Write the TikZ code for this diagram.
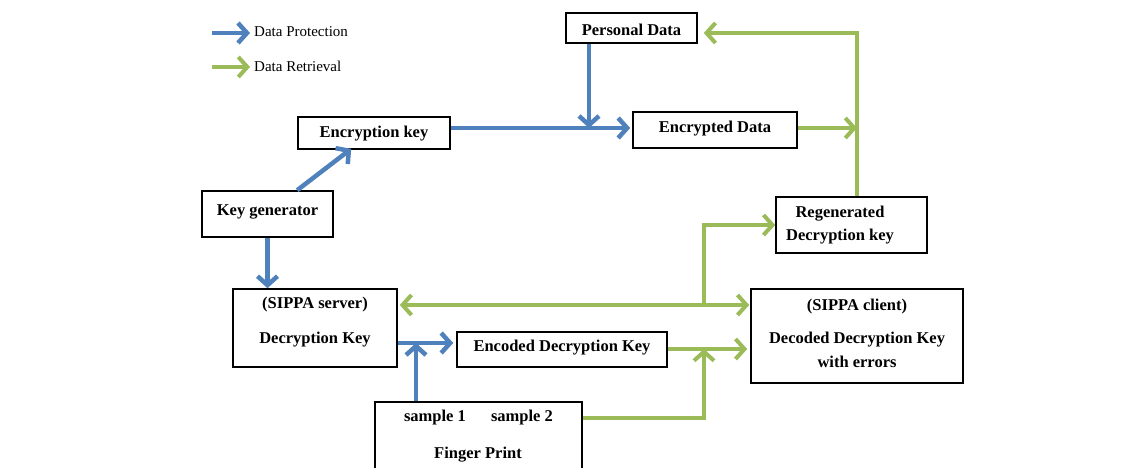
\documentclass[tikz,border=0pt]{standalone}
\usepackage{fontspec}
\setmainfont{Liberation Serif}
\usetikzlibrary{arrows.meta,calc}
\definecolor{pblue}{HTML}{4F81BD}
\definecolor{rgreen}{HTML}{9BBB59}
\tikzset{
  box/.style={draw=black, line width=1.6pt, fill=white, inner sep=0pt, align=center,
    font=\fontsize{16.5}{20}\selectfont\bfseries},
  txt/.style={inner sep=0pt, font=\fontsize{16.5}{20}\selectfont\bfseries},
  legtxt/.style={inner sep=0pt, anchor=west, font=\fontsize{15}{18}\selectfont},
  barr/.style={draw=pblue, line width=4.5pt, -{Straight Barb[length=9pt,width=20pt]}},
  garr/.style={draw=rgreen, line width=4pt, -{Straight Barb[length=9pt,width=20pt]}},
  gdbl/.style={draw=rgreen, line width=4pt, {Straight Barb[length=9pt,width=20pt]}-{Straight Barb[length=9pt,width=20pt]}},
}
\begin{document}
\begin{tikzpicture}[x=1pt,y=-1pt]
\useasboundingbox (0,0) rectangle (1145,468);
\clip (0,0) rectangle (1145,468);
\fill[white] (0,0) rectangle (1145,468);

% legend
\coordinate (lb1) at (212,33);
\coordinate (lb2) at (250,33);
\coordinate (lg1) at (212,67);
\coordinate (lg2) at (250,67);
\draw[barr] (lb1) -- (lb2);
\draw[garr] (lg1) -- (lg2);
\node[legtxt] (lt1) at (254,32) {Data Protection};
\node[legtxt] (lt2) at (254,66) {Data Retrieval};

% boxes
\node[box, minimum width=131pt, minimum height=30pt] (pd) at (631.5,28) {};
\node[txt] (pdt) at (631.5,30) {Personal Data};
\node[box, minimum width=164pt, minimum height=36pt] (ed) at (715,130) {};
\node[txt] (edt) at (715,129) {Encrypted Data};
\node[box, minimum width=152pt, minimum height=32pt] (ek) at (374,133) {};
\node[txt] (ekt) at (374,134) {Encryption key};
\node[box, minimum width=131pt, minimum height=46pt] (kg) at (267.5,214) {};
\node[txt] (kgt) at (267.5,212) {Key generator};
\node[box, minimum width=164pt, minimum height=78pt] (ss) at (315,328) {};
\node[txt] (sst1) at (315,305) {(SIPPA server)};
\node[txt] (sst2) at (315,340) {Decryption Key};
\node[box, minimum width=210pt, minimum height=35pt] (enc) at (562,349.5) {};
\node[txt] (enct) at (562,348) {Encoded Decryption Key};
\node[box, minimum width=207pt, minimum height=78pt] (fp) at (478.5,441) {};
\node[txt] (fps1) at (435,418) {sample 1};
\node[txt] (fps2) at (522,418) {sample 2};
\node[txt] (fpt) at (478,455) {Finger Print};
\node[box, minimum width=151pt, minimum height=56pt] (rg) at (851.5,225) {};
\node[txt] (rgt1) at (840,214) {Regenerated};
\node[txt] (rgt2) at (840,237) {Decryption key};
\node[box, minimum width=212pt, minimum height=94pt] (sc) at (857,336) {};
\node[txt] (sct1) at (857,307) {(SIPPA client)};
\node[txt] (sct2) at (857,340) {Decoded Decryption Key};
\node[txt] (sct3) at (857,362) {with errors};

% junction coordinates
\coordinate (j1) at (589,128);
\coordinate (j2) at (857,128);
\coordinate (j3) at (857,33);
\coordinate (j4) at (416,343);
\coordinate (j5) at (704,305);
\coordinate (j6) at (704,225);
\coordinate (j7) at (704,418);
\coordinate (j8) at (704,349);

% blue connectors
\draw[barr] ($(kg.north west)+(96,0)$) -- ($(ek.south west)+(54,-1)$);
\draw[barr] (kg.south) -- (kg.south |- ss.north);
\draw[barr, shorten >=2pt] (ek.east |- j1) -- (ed.west |- j1);
\draw[barr] (pd.south -| j1) -- (j1);
\draw[barr, shorten >=3pt] (ss.east |- j4) -- (enc.west |- j4);
\draw[barr] (fp.north -| j4) -- (j4);

% green connectors
\draw[garr] (ed.east |- j2) -- (j2);
\draw[garr, shorten >=6pt] (rg.north -| j2) -- (j3) -- (pd.east |- j3);
\draw[gdbl, shorten <=2pt, shorten >=1pt] (ss.east |- j5) -- (sc.west |- j5);
\draw[garr] (j5) -- (j6) -- (rg.west |- j6);
\draw[garr, shorten >=3pt] (enc.east |- j8) -- (sc.west |- j8);
\draw[garr] (fp.east |- j7) -- (j7) -- (j8);
\end{tikzpicture}
\end{document}
